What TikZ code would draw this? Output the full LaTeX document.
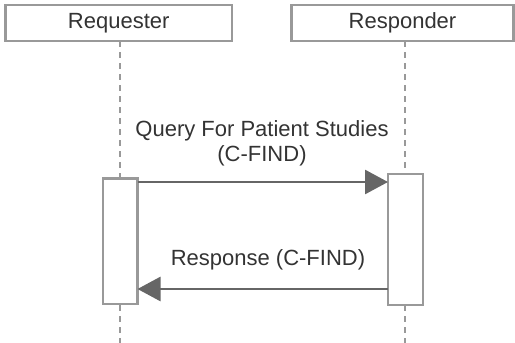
\documentclass[tikz,border=0pt]{standalone}
\usepackage{fontspec}
\setmainfont{Liberation Sans}
\usetikzlibrary{arrows.meta}
\definecolor{boxgray}{HTML}{999999}
\definecolor{linegray}{HTML}{666666}
\definecolor{txt}{HTML}{333333}
\tikzset{
  actor/.style={draw=boxgray, line width=2.6pt, fill=white, minimum height=36pt,
    inner sep=0pt, text=txt, font=\fontsize{22}{25}\selectfont},
  lifeline/.style={draw=boxgray, line width=2pt, dash pattern=on 6pt off 5pt},
  activation/.style={draw=boxgray, line width=2.6pt, fill=white},
  msg/.style={draw=linegray, line width=2.8pt, -{Triangle[length=23pt,width=24pt]}},
  msglabel/.style={text=txt, font=\fontsize{22}{25}\selectfont, align=center}
}
\begin{document}
\begin{tikzpicture}[x=1pt, y=-1pt]
  \useasboundingbox (0,0) rectangle (515,343);
  % participants
  \node[actor, minimum width=226.5pt] (req) at (118.75,23) {Requester};
  \node[actor, minimum width=222pt] (res) at (402.5,23) {Responder};
  % lifeline end points
  \coordinate (reqTop) at (120,41);
  \coordinate (reqEnd) at (120,343);
  \coordinate (resTop) at (405,41);
  \coordinate (resEnd) at (405,343);
  \draw[lifeline] (reqTop) -- (reqEnd);
  \draw[lifeline] (resTop) -- (resEnd);
  % activation bars
  \draw[activation] (103,178.5) rectangle (137.5,304);
  \draw[activation] (388,174) rectangle (423,305);
  \coordinate (a1) at (137.5,182);
  \coordinate (b1) at (388,182);
  \coordinate (a2) at (388,289);
  \coordinate (b2) at (137.5,289);
  % messages
  \draw[msg] (a1) -- (b1);
  \draw[msg] (a2) -- (b2);
  \node[msglabel] (q) at (262,143) {Query For Patient Studies\\(C-FIND)};
  \node[msglabel] (r) at (268,260) {Response (C-FIND)};
\end{tikzpicture}
\end{document}
